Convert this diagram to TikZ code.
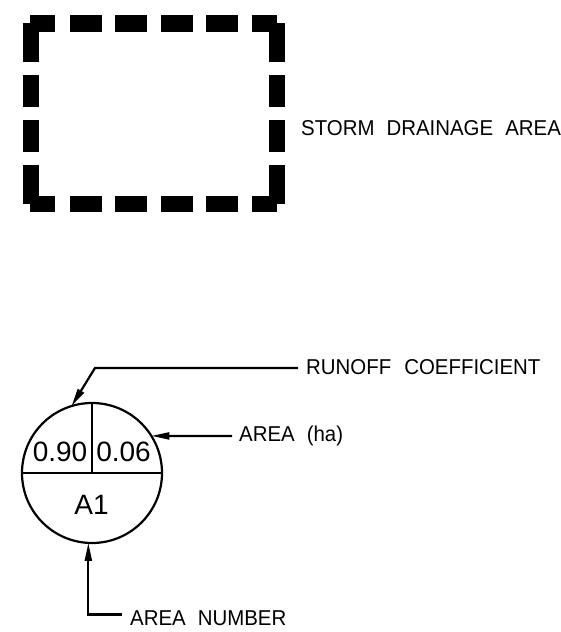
\documentclass[tikz,border=0pt]{standalone}
\usepackage{fontspec}
\setmainfont[FakeStretch=0.95]{Liberation Sans}
\newfontfamily\circfont{Liberation Sans}
\usetikzlibrary{arrows.meta}
\begin{document}
\begin{tikzpicture}[x=1pt,y=-1pt,
  lbl/.style={inner sep=0pt, anchor=base west, font=\fontsize{21.5}{24}\selectfont},
  numtxt/.style={inner sep=0pt, font=\circfont\fontsize{28}{30}\selectfont},
  leader/.style={line width=2.2pt, -{Triangle[length=18pt,width=7pt]}},
  thin/.style={line width=2.2pt},
  bar/.style={fill=black}]
\fill[white] (0,0) rectangle (560,632);
\useasboundingbox (0,0) rectangle (560,632);
% storm drainage area symbol (thick dashed boundary)
\foreach \a/\b in {30/55,70/102,115/147,161/193,206/238,252/277}{
  \fill[bar] (\a,15) rectangle (\b,32);
  \fill[bar] (\a,196) rectangle (\b,212);
}
\foreach \a/\b in {23/62,75/107,120/152,165/204}{
  \fill[bar] (23,\a) rectangle (39,\b);
  \fill[bar] (269,\a) rectangle (285,\b);
}
\node[lbl] (storm) at (301,135) {STORM\hspace{12pt}DRAINAGE\hspace{12pt}AREA};
% area tag
\node[circle, draw, thin, minimum size=140pt, inner sep=0pt, outer sep=0pt] (c) at (92,473) {};
\draw[thin] (c.north) -- (c.center);
\draw[thin] (c.west) -- (c.east);
\node[numtxt] (rc) at (60,452) {0.90};
\node[numtxt] (ha) at (123.5,452) {0.06};
\node[numtxt] (num) at (91.5,505) {A1};
% labels
\node[lbl] (rcl) at (306,374) {RUNOFF\hspace{13pt}COEFFICIENT};
\node[lbl] (arl) at (239,441) {AREA\hspace{12pt}(ha)};
\node[lbl] (anl) at (130,625) {AREA\hspace{12pt}NUMBER};
\coordinate (rcend) at (298,368);
\coordinate (rcbend) at (95,368);
\coordinate (arend) at (232,436);
\coordinate (anend) at (122,614.5);
\draw[leader] (rcend) -- (rcbend) -- (c.107);
\draw[leader] (arend) -- (c.32);
\draw[leader] (anend) -| (c.267);
\end{tikzpicture}
\end{document}
